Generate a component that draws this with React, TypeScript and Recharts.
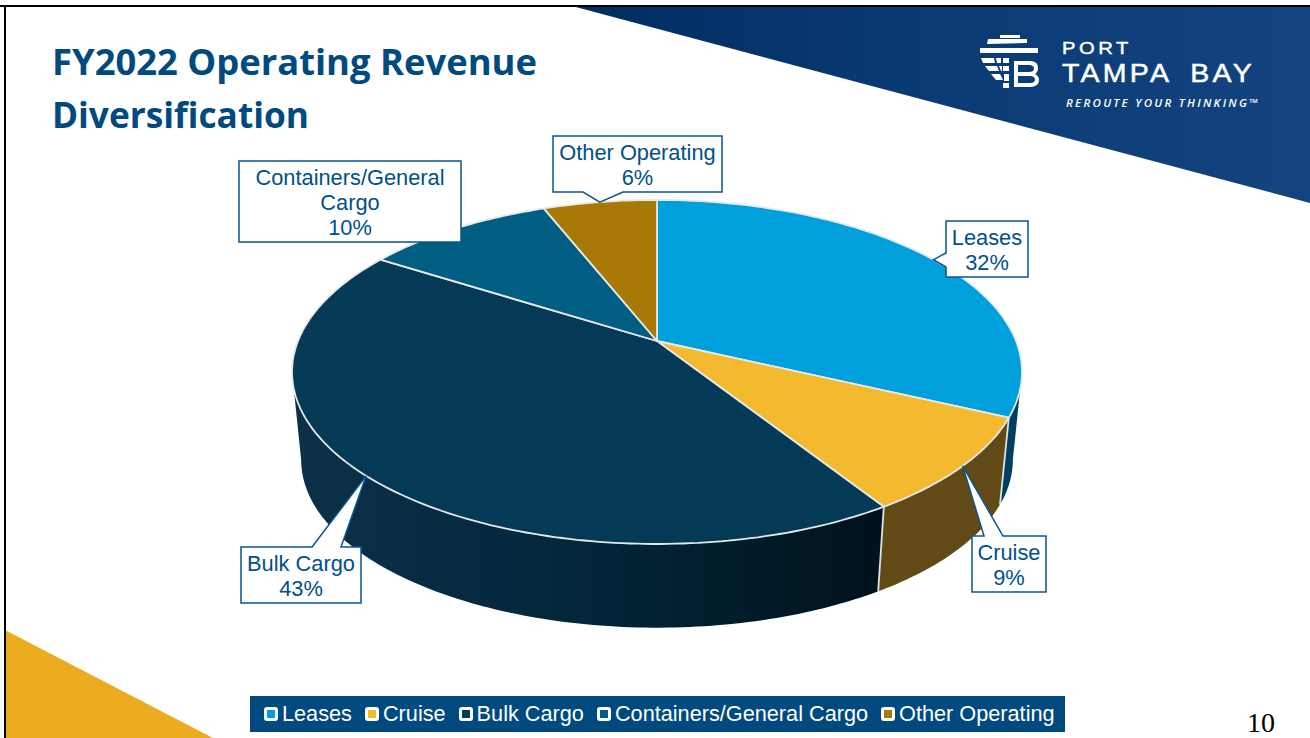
import { Legend, Pie, PieChart } from "recharts"

const categories = ["Leases", "Cruise", "Bulk Cargo", "Containers/General Cargo", "Other Operating"]
const shares = [32, 9, 43, 10, 6]
const titleLines = ["FY2022 Operating Revenue", "Diversification"]
const titleWidths = [485, 257]

const topColors = ["#00a0dc", "#f3b92f", "#053a57", "#005e82", "#a87a05"]
const wallColors = ["#003f60", "#624a16", "url(#bulkWall)", "#003f60", "#5a4010"]

const tableData = categories.map((name, i) => ({
  name,
  value: shares[i],
  fill: topColors[i],
}))

// callout boxes in page pixels, base = where the pointer leaves the box
const callouts: Record<string, any> = {
  Leases: { x: 946, y: 221, w: 82, h: 56, side: "left", base: [253, 267], lines: ["Leases"] },
  Cruise: { x: 972, y: 536, w: 74, h: 56, side: "top", base: [984, 1003], lines: ["Cruise"] },
  "Bulk Cargo": { x: 241, y: 547, w: 120, h: 56, side: "top", base: [312, 341], lines: ["Bulk Cargo"] },
  "Containers/General Cargo": { x: 239, y: 161, w: 222, h: 81, side: "none", base: [0, 0], lines: ["Containers/General", "Cargo"] },
  "Other Operating": { x: 553, y: 136, w: 169, h: 56, side: "bottom", base: [583, 623], lines: ["Other Operating"] },
}

const KEYSTONE = 0.18 // how much the near edge of the disc is enlarged
const FLATTEN = 0.4636
const WALL_SCALE = 0.975
const WALL_DROP = 88
const WALL_FROM = 100.4
const WALL_TO = 259.6

// t = degrees clockwise from 12 o'clock
function rimPoint(t: number, cx: number, cy: number, r: number) {
  const rad = (t * Math.PI) / 180
  const x = Math.sin(rad)
  const y = -Math.cos(rad)
  const w = 1 - KEYSTONE * y
  return [cx + (r * x) / w, cy + (r * FLATTEN * y) / w]
}

function wallPoint(t: number, cx: number, cy: number, r: number) {
  const [px, py] = rimPoint(t, cx, cy, r)
  const midY = cy + 31
  return [cx + WALL_SCALE * (px - cx), midY + WALL_SCALE * (py - midY) + WALL_DROP]
}

function sweep(from: number, to: number) {
  const out: number[] = []
  for (let t = from; t < to; t += 1) out.push(t)
  out.push(to)
  return out
}

function PerspectiveSector(props: any) {
  const { cx, cy, outerRadius, startAngle, endAngle, fill, index } = props
  const t0 = 90 - startAngle
  const t1 = 90 - endAngle
  const top = sweep(t0, t1).map((t) => rimPoint(t, cx, cy, outerRadius))
  const topPath =
    `M${cx},${cy} ` + top.map((p) => `L${p[0].toFixed(1)},${p[1].toFixed(1)}`).join(" ") + " Z"

  const lo = Math.max(t0, WALL_FROM)
  const hi = Math.min(t1, WALL_TO)
  let wall = null
  if (hi > lo) {
    const ts = sweep(lo, hi)
    const pts = [
      ...ts.map((t) => rimPoint(t, cx, cy, outerRadius)),
      ...ts.slice().reverse().map((t) => wallPoint(t, cx, cy, outerRadius)),
    ]
    const a = rimPoint(t0, cx, cy, outerRadius)
    const b = wallPoint(t0, cx, cy, outerRadius)
    wall = (
      <g>
        <polygon points={pts.map((p) => p.join(",")).join(" ")} fill={wallColors[index]} />
        {t0 >= WALL_FROM && (
          <line x1={a[0]} y1={a[1]} x2={b[0]} y2={b[1]} stroke="#dfe3e6" strokeWidth={1.8} />
        )}
      </g>
    )
  }
  return (
    <g>
      {wall}
      <path d={topPath} fill={fill} stroke="#e6e9ea" strokeWidth={1.8} strokeLinejoin="round" />
    </g>
  )
}

function Callout(props: any) {
  const { cx, cy, outerRadius, midAngle, name, value } = props
  const box = callouts[name]
  if (!box) return null
  const [tx, ty] = rimPoint(90 - midAngle, cx, cy, outerRadius)
  const { x, y, w, h, side, base } = box
  const r = x + w
  const b = y + h
  let d = `M${x},${y} `
  if (side === "top") d += `L${base[0]},${y} L${tx},${ty} L${base[1]},${y} `
  d += `L${r},${y} L${r},${b} `
  if (side === "bottom") d += `L${base[1]},${b} L${tx},${ty} L${base[0]},${b} `
  d += `L${x},${b} `
  if (side === "left") d += `L${x},${base[1]} L${tx},${ty} L${x},${base[0]} `
  d += "Z"
  const lines = [...box.lines, `${value}%`]
  return (
    <g>
      <path d={d} fill="#ffffff" stroke="#0a5490" strokeWidth={1.5} />
      {lines.map((line: string, i: number) => (
        <text
          key={line}
          x={x + w / 2}
          y={y + 24 + i * 25}
          textAnchor="middle"
          fontFamily="Liberation Sans"
          fontSize={21.8}
          fill="#00508a"
        >
          {line}
        </text>
      ))}
    </g>
  )
}

function LegendBar({ payload }: any) {
  const ordered = [...(payload || [])].sort(
    (a: any, b: any) => categories.indexOf(a.value) - categories.indexOf(b.value),
  )
  return (
    <div
      style={{
        display: "flex",
        alignItems: "center",
        boxSizing: "border-box",
        height: 36,
        paddingLeft: 14,
        background: "#004a80",
        fontFamily: "Liberation Sans",
        fontSize: 21.7,
        color: "#ffffff",
        whiteSpace: "nowrap",
      }}
    >
      {ordered.map((entry: any) => (
        <span key={entry.value} style={{ display: "flex", alignItems: "center", marginRight: 13 }}>
          <span
            style={{
              display: "inline-block",
              boxSizing: "border-box",
              width: 14,
              height: 14,
              marginRight: 4,
              border: "3px solid #ffffff",
              borderRadius: 3,
              background: topColors[categories.indexOf(entry.value)],
            }}
          />
          {entry.value}
        </span>
      ))}
    </div>
  )
}

function Backdrop() {
  return (
    <svg width={1310} height={738} style={{ position: "absolute", left: 0, top: 0 }}>
      <defs>
        <linearGradient id="banner" x1="0" y1="0" x2="1" y2="0">
          <stop offset="0%" stopColor="#002c5f" />
          <stop offset="45%" stopColor="#0a3a74" />
          <stop offset="100%" stopColor="#14447f" />
        </linearGradient>
      </defs>
      <rect width={1310} height={738} fill="#ffffff" />
      <polygon points="572,6 1310,6 1310,203" fill="url(#banner)" />
      <polygon points="5,630 213,738 5,738" fill="#ebac20" />
      <rect x={0} y={5} width={1310} height={2} fill="#000000" />
      <rect x={4} y={5} width={2} height={733} fill="#000000" />

      {titleLines.map((line, i) => (
        <text
          key={line}
          x={52}
          y={75 + i * 53}
          fontFamily="Open Sans"
          fontWeight={700}
          fontSize={36}
          textLength={titleWidths[i]}
          lengthAdjust="spacingAndGlyphs"
          fill="#004a80"
        >
          {line}
        </text>
      ))}

      {/* logo */}
      <g fill="#ffffff">
        <rect x={1000} y={35} width={20} height={3} />
        <polygon points="988,39 1027,39 1027,43 987,44" />
        <rect x={980} y={48} width={58} height={5} />
        <polygon points="981,58 994,58 995,63 983,63" />
        <polygon points="996,58 1001,58 1001,63 997,63" />
        <rect x={1003} y={58} width={6} height={5} />
        <polygon points="985,66 997,66 999,71 989,71" />
        <polygon points="999,66 1002,66 1002,71 1001,71" />
        <rect x={1003} y={66} width={6} height={5} />
        <polygon points="991,74 1000,74 1003,80 996,80" />
        <rect x={1004} y={74} width={5} height={7} />
        <rect x={1003} y={83} width={6} height={5} />
        <path
          fillRule="evenodd"
          d="M1014,61 H1030 Q1038,61 1038,68 Q1038,72 1035,74 Q1039,76 1039,80 Q1039,87 1030,87 H1014 Z M1018,65 V72 H1029 Q1034,72 1034,68.5 Q1034,65 1029,65 Z M1018,76 V83 H1030 Q1035,83 1035,79.5 Q1035,76 1030,76 Z"
        />
      </g>
      <text
        x={1062}
        y={54}
        fontFamily="Liberation Sans"
        fontSize={17}
        letterSpacing={3}
        textLength={70}
        lengthAdjust="spacingAndGlyphs"
        stroke="#ffffff"
        strokeWidth={0.4}
        fill="#ffffff"
      >
        PORT
      </text>
      <text
        x={1062}
        y={82}
        fontFamily="Liberation Sans"
        fontSize={26.5}
        letterSpacing={3}
        wordSpacing={8}
        textLength={193}
        lengthAdjust="spacingAndGlyphs"
        stroke="#ffffff"
        strokeWidth={0.5}
        fill="#ffffff"
      >
        TAMPA BAY
      </text>
      <text
        x={1066}
        y={107}
        fontFamily="Open Sans"
        fontWeight={600}
        fontStyle="italic"
        fontSize={11.5}
        textLength={192}
        fill="#ffffff"
      >
        REROUTE YOUR THINKING™
      </text>

      <text x={1247} y={732} fontFamily="Liberation Serif" fontSize={28} fill="#000000">
        10
      </text>
    </svg>
  )
}

export default function App() {
  return (
    <div style={{ position: "absolute", left: 0, top: 0, width: 1310, height: 738, overflow: "hidden" }}>
      <Backdrop />
      <div style={{ position: "absolute", left: 0, top: 0 }}>
        <PieChart width={1310} height={738} margin={{ top: 0, right: 0, bottom: 0, left: 0 }}>
          <defs>
            <linearGradient id="bulkWall" gradientUnits="userSpaceOnUse" x1="300" y1="0" x2="880" y2="0">
              <stop offset="0%" stopColor="#0b3149" />
              <stop offset="45%" stopColor="#03273b" />
              <stop offset="85%" stopColor="#001824" />
              <stop offset="100%" stopColor="#00121c" />
            </linearGradient>
          </defs>
          <Pie
            data={tableData}
            dataKey="value"
            nameKey="name"
            cx={657}
            cy={341}
            innerRadius={0}
            outerRadius={359}
            startAngle={90}
            endAngle={-270}
            shape={PerspectiveSector}
            label={Callout}
            labelLine={false}
            isAnimationActive={false}
          />
          <Legend
            content={<LegendBar />}
            wrapperStyle={{ position: "absolute", left: 250, top: 696, bottom: "auto", width: 815, height: 36 }}
          />
        </PieChart>
      </div>
    </div>
  )
}
